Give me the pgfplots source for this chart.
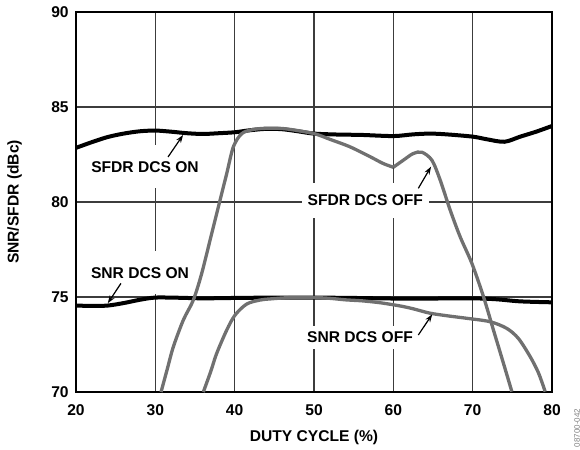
\documentclass[border=0pt]{standalone}
\usepackage{fontspec}
\setmainfont{Liberation Sans}
\usepackage{pgfplots}
\pgfplotsset{compat=1.18}
\usetikzlibrary{arrows.meta}
\definecolor{curvegray}{RGB}{112,112,112}
\definecolor{gridgray}{RGB}{60,60,60}
\begin{document}
\begin{tikzpicture}[font=\fontsize{15.6}{18}\selectfont\bfseries]
\begin{axis}[
 scale only axis, width=476pt, height=380pt,
 xmin=20, xmax=80, ymin=70, ymax=90,
 xtick={20,30,...,80}, ytick={70,75,...,90},
 grid=major, major grid style={line width=1.3pt, gridgray},
 axis line style={line width=2pt},
 major tick length=0pt,
 tick label style={font=\fontsize{15.6}{18}\selectfont\bfseries},
 /pgf/number format/assume math mode=true,
 xticklabel style={yshift=-9.5pt},
 yticklabel style={xshift=-3.8pt},
 xlabel={DUTY CYCLE (\%)}, ylabel={SNR/SFDR (dBc)},
 xlabel style={at={(axis description cs:0.5,-0.12)}, anchor=center},
 ylabel style={at={(axis description cs:-0.129,0.5)}, anchor=center},
]
% label boxes first (cover grid, under curves)
\node[fill=white, inner xsep=5pt, inner ysep=16pt] at (axis cs:28.7,81.86) {SFDR DCS ON};
\node[fill=white, inner xsep=5pt, inner ysep=16pt] at (axis cs:28.07,76.28) {SNR DCS ON};
\node[fill=white, inner xsep=6pt, inner ysep=12pt] at (axis cs:56.47,80.1) {SFDR DCS OFF};
\node[fill=white, inner xsep=5pt, inner ysep=6pt] at (axis cs:55.8,72.88) {SNR DCS OFF};

% SFDR DCS ON
\addplot[black, line width=4pt, smooth, tension=0.5] coordinates {
(20,82.85)(22,83.15)(24,83.42)(26,83.6)(28,83.72)(30,83.76)(32,83.7)(34,83.62)(36,83.58)(38,83.62)(40,83.67)(42,83.78)(44,83.85)(46,83.83)(48,83.72)(50,83.6)(53,83.55)(56,83.53)(60,83.47)(62.5,83.56)(64.6,83.6)(66.7,83.56)(70,83.44)(71.8,83.3)(74,83.17)(76,83.44)(78,83.7)(80,84.0)};
% SNR DCS ON
\addplot[black, line width=4pt, smooth, tension=0.5] coordinates {
(20,74.55)(22,74.53)(24,74.55)(26,74.68)(28,74.85)(30,74.97)(33,74.96)(36,74.93)(40,74.95)(45,74.97)(50,74.97)(55,74.95)(60,74.92)(65,74.92)(70,74.93)(73,74.88)(76,74.77)(80,74.72)};
% SFDR DCS OFF
\addplot[curvegray, line width=3.3pt, smooth, tension=0.5] coordinates {
(30.72,70)(31.5,71.2)(32.27,72.38)(33.53,73.79)(34.79,74.84)(35.85,76.25)(37.11,78.35)(38.16,80.1)(39.0,81.5)(39.84,82.91)(40.9,83.6)(42.36,83.82)(44,83.88)(45.5,83.88)(47,83.82)(50,83.6)(52,83.3)(54.5,82.91)(57,82.4)(58.7,82.03)(60,81.83)};
\addplot[curvegray, line width=3.3pt, smooth, tension=0.5] coordinates {
(60,81.83)(61.26,82.2)(62.5,82.55)(63.6,82.62)(64.86,82.2)(65.9,81.16)(67.16,79.58)(68.42,78.17)(69.9,76.77)(71.36,75.02)(72.62,73.26)(73.88,71.51)(74.94,70.02)};
% SNR DCS OFF
\addplot[curvegray, line width=3.3pt, smooth, tension=0.5] coordinates {
(36.05,70)(37,71.1)(37.73,72.03)(39.0,73.26)(40.05,74.05)(41.52,74.63)(43.2,74.84)(44.5,74.9)(47,74.97)(50,74.97)(52,74.93)(54,74.85)(56,74.8)(58.3,74.7)(60.84,74.53)(62.5,74.38)(64.6,74.15)(67,74.0)(69.25,73.88)(72.19,73.7)(74.29,73.35)(75.76,72.82)(77.25,71.86)(78.3,71.0)(79.14,70.02)};

% arrows
\draw[line width=1.2pt, -{Stealth[length=8pt,width=5.5pt]}] (axis cs:31.6,82.37) -- (axis cs:33.5,83.53);
\draw[line width=1.2pt, -{Stealth[length=8pt,width=5.5pt]}] (axis cs:25.67,75.72) -- (axis cs:24.0,74.67);
\draw[line width=1.2pt, -{Stealth[length=8pt,width=5.5pt]}] (axis cs:63.15,80.72) -- (axis cs:64.75,81.86);
\draw[line width=1.2pt, -{Stealth[length=8pt,width=5.5pt]}] (axis cs:63.15,73.0) -- (axis cs:64.9,74.09);
\end{axis}
\node[rotate=90, font=\fontsize{8}{9}\selectfont, text=gray] at ([shift={(25pt,-36pt)}]current axis.south east) {08700-042};
\pgfresetboundingbox
\useasboundingbox ([shift={(-76pt,-57pt)}]current axis.south west) rectangle ([shift={(28pt,12pt)}]current axis.north east);
\end{tikzpicture}
\end{document}
